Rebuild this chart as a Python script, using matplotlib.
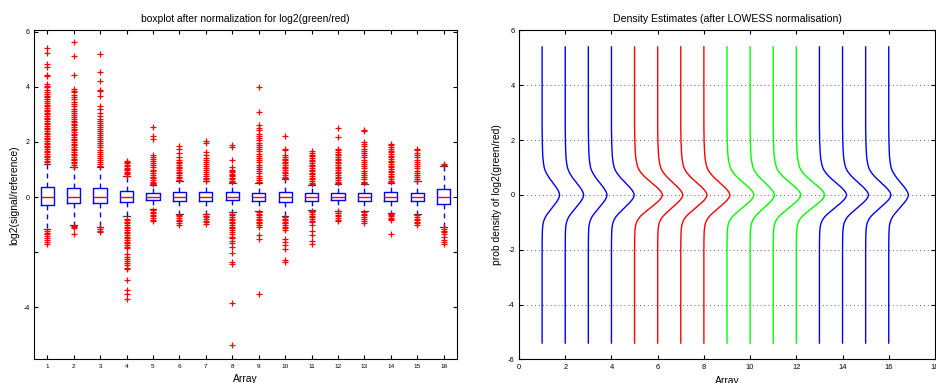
import numpy as np
from matplotlib import pyplot as plt

plt.rcParams['font.family'] = ['Liberation Sans', 'DejaVu Sans']
plt.rcParams['axes.unicode_minus'] = False

# ---- left panel: boxplot stats per array
arrays = list(range(1, 17))
medians = [0.0] * 16
q1 = [-0.28, -0.23, -0.23, -0.18, -0.11, -0.15, -0.15, -0.12,
      -0.13, -0.19, -0.13, -0.12, -0.13, -0.15, -0.16, -0.25]
q3 = [0.36, 0.34, 0.34, 0.22, 0.16, 0.20, 0.19, 0.17,
      0.16, 0.19, 0.13, 0.15, 0.15, 0.17, 0.16, 0.29]
whis_lo = [-1.15, -1.03, -1.07, -0.70, -0.42, -0.60, -0.60, -0.55,
           -0.50, -0.68, -0.48, -0.50, -0.52, -0.57, -0.60, -1.08]
whis_hi = [1.20, 1.08, 1.08, 0.75, 0.43, 0.60, 0.58, 0.52,
           0.50, 0.65, 0.42, 0.48, 0.48, 0.52, 0.58, 1.13]

out_hi = [
    [5.42, 5.22, 4.83, 4.74, 4.42, 4.38, 4.12, 4.05, 3.98, 3.9, 3.82, 3.75, 3.68, 3.62,
     3.55, 3.48, 3.42, 3.36, 3.3, 3.24, 3.18, 3.12, 3.06, 3.0, 2.94, 2.88, 2.82, 2.76,
     2.7, 2.64, 2.58, 2.52, 2.46, 2.4, 2.34, 2.28, 2.22, 2.16, 2.1, 2.04, 1.98, 1.92,
     1.86, 1.8, 1.74, 1.68, 1.62, 1.56, 1.5, 1.44, 1.38, 1.32, 1.26],
    [5.62, 5.12, 4.45, 3.92, 3.86, 3.8, 3.72, 3.62, 3.55, 3.45, 3.38, 3.3, 3.2, 3.12,
     3.05, 2.98, 2.9, 2.84, 2.78, 2.72, 2.66, 2.6, 2.54, 2.48, 2.42, 2.36, 2.3, 2.24,
     2.18, 2.12, 2.06, 2.0, 1.94, 1.88, 1.82, 1.76, 1.7, 1.64, 1.58, 1.52, 1.46, 1.4,
     1.34, 1.28, 1.22, 1.16, 1.1],
    [5.19, 4.55, 4.22, 3.88, 3.84, 3.66, 3.3, 3.21, 3.05, 2.95, 2.85, 2.78, 2.7, 2.62,
     2.55, 2.48, 2.4, 2.32, 2.25, 2.18, 2.1, 2.02, 1.95, 1.88, 1.8, 1.72, 1.65, 1.58,
     1.5, 1.42, 1.35, 1.28, 1.2, 1.13],
    [1.32, 1.27, 1.22, 1.17, 1.12, 1.07, 1.02, 0.97, 0.92, 0.87, 0.82, 0.78],
    [2.55, 2.22, 2.12, 1.52, 1.45, 1.38, 1.3, 1.22, 1.15, 1.08, 1.0, 0.93, 0.86, 0.8,
     0.74, 0.68, 0.62, 0.56, 0.5, 0.46],
    [1.86, 1.76, 1.6, 1.45, 1.34, 1.28, 1.22, 1.16, 1.1, 1.04, 0.98, 0.92, 0.86, 0.8,
     0.74, 0.68, 0.63],
    [2.02, 1.97, 1.64, 1.52, 1.43, 1.34, 1.28, 1.2, 1.12, 1.05, 0.98, 0.9, 0.83, 0.76,
     0.7, 0.64, 0.6],
    [1.9, 1.8, 1.36, 1.09, 1.0, 0.95, 0.9, 0.85, 0.8, 0.75, 0.7, 0.65, 0.6, 0.55],
    [4.0, 3.09, 2.6, 2.52, 2.42, 2.3, 2.22, 2.14, 2.06, 1.98, 1.9, 1.82, 1.74, 1.66,
     1.58, 1.5, 1.42, 1.34, 1.26, 1.18, 1.1, 1.02, 0.94, 0.86, 0.78, 0.7, 0.62, 0.55],
    [2.2, 1.76, 1.7, 1.52, 1.46, 1.4, 1.34, 1.28, 1.22, 1.16, 1.1, 1.04, 0.98, 0.92,
     0.86, 0.8, 0.74, 0.7],
    [1.66, 1.6, 1.54, 1.48, 1.42, 1.36, 1.3, 1.24, 1.18, 1.12, 1.06, 1.0, 0.94, 0.88,
     0.82, 0.76, 0.7, 0.64, 0.58, 0.52, 0.46],
    [2.52, 2.18, 1.76, 1.7, 1.64, 1.58, 1.52, 1.46, 1.4, 1.34, 1.28, 1.22, 1.16, 1.1,
     1.04, 0.98, 0.92, 0.86, 0.8, 0.74, 0.68, 0.62, 0.56, 0.5],
    [2.45, 2.4, 2.0, 1.93, 1.84, 1.76, 1.68, 1.6, 1.52, 1.44, 1.36, 1.28, 1.2, 1.12,
     1.04, 0.96, 0.88, 0.8, 0.72, 0.64, 0.56, 0.5],
    [1.94, 1.88, 1.8, 1.74, 1.68, 1.62, 1.56, 1.5, 1.44, 1.38, 1.32, 1.26, 1.2, 1.14,
     1.08, 1.02, 0.96, 0.9, 0.84, 0.78, 0.72, 0.66, 0.6, 0.55],
    [1.76, 1.7, 1.6, 1.52, 1.44, 1.36, 1.28, 1.2, 1.12, 1.04, 0.96, 0.88, 0.8, 0.72,
     0.64, 0.6],
    [1.2, 1.17],
]
out_lo = [
    [-1.22, -1.3, -1.36, -1.42, -1.5, -1.56, -1.64, -1.7],
    [-1.06, -1.1, -1.14, -1.36],
    [-1.1, -1.16, -1.22, -1.27],
    [-0.78, -0.84, -0.9, -0.96, -1.02, -1.08, -1.14, -1.2, -1.26, -1.32, -1.38, -1.44,
     -1.5, -1.56, -1.62, -1.68, -1.74, -1.8, -1.86, -2.08, -2.16, -2.24, -2.32, -2.4,
     -2.48, -2.56, -2.62, -3.0, -3.38, -3.52, -3.7],
    [-0.47, -0.53, -0.58, -0.64, -0.7, -0.76, -0.82, -0.86],
    [-0.64, -0.7, -0.76, -0.82, -0.88, -0.94, -1.0],
    [-0.62, -0.68, -0.74, -0.8, -0.86, -0.92, -0.98],
    [-0.6, -0.66, -0.72, -0.78, -0.84, -0.9, -0.96, -1.02, -1.08, -1.14, -1.2, -1.28,
     -1.36, -1.44, -1.5, -1.58, -1.66, -1.82, -2.02, -2.36, -2.42, -3.85, -5.38],
    [-0.55, -0.6, -0.66, -0.72, -0.78, -0.84, -0.9, -0.96, -1.02, -1.08, -1.39, -1.52,
     -3.52],
    [-0.72, -0.78, -0.84, -0.9, -0.96, -1.02, -1.08, -1.14, -1.2, -1.52, -1.64, -1.73,
     -1.88, -2.3, -2.36],
    [-0.5, -0.56, -0.62, -0.68, -0.74, -0.8, -0.86, -0.92, -1.03, -1.25, -1.39, -1.58,
     -1.72],
    [-0.52, -0.58, -0.64, -0.7, -0.76, -0.82, -0.86],
    [-0.54, -0.6, -0.66, -0.72, -0.78, -0.86, -0.96],
    [-0.6, -0.65, -0.7, -0.75, -0.8, -0.85, -1.33],
    [-0.66, -0.72, -0.78, -0.84, -0.9, -0.96, -1.0],
    [-1.1, -1.16, -1.22, -1.28, -1.36, -1.45, -1.55, -1.62, -1.7],
]

# ---- right panel: density profile (relative height vs log2 ratio) and peak per array
prof_y = [5.4, 2.5, 2.0, 1.6, 1.5, 1.4, 1.3, 1.2, 1.1, 1.0, 0.9, 0.8, 0.7, 0.6, 0.5, 0.4,
          0.3, 0.2, 0.1, 0.0, -0.1, -0.2, -0.3, -0.4, -0.5, -0.6, -0.7, -0.8, -0.9,
          -1.0, -1.1, -1.2, -1.3, -1.4, -1.6, -2.0, -5.4]
prof_d = [0.0, 0.0, 0.008, 0.025, 0.032, 0.04, 0.053, 0.07, 0.092, 0.12, 0.17, 0.24,
          0.33, 0.43, 0.55, 0.66, 0.78, 0.88, 0.96, 1.0, 0.96, 0.88, 0.77, 0.65, 0.53,
          0.41, 0.29, 0.19, 0.12, 0.07, 0.04, 0.025, 0.015, 0.01, 0.004, 0.0, 0.0]
peaks = [0.76, 0.8, 0.81, 0.99, 1.21, 1.09, 1.14, 1.13,
         1.17, 1.06, 1.2, 1.23, 1.18, 1.13, 1.1, 0.85]
colors = ['#0000ff'] * 4 + ['#ff0000'] * 4 + ['#00ff00'] * 4 + ['#0000ff'] * 4

fig = plt.figure(figsize=(9.36, 3.83), dpi=100)
ax1 = fig.add_axes([0.0363, 0.0614, 0.4519, 0.859])
ax2 = fig.add_axes([0.5545, 0.0614, 0.4444, 0.859])

stats = []
for i in range(16):
    stats.append(dict(med=medians[i], q1=q1[i], q3=q3[i],
                      whislo=whis_lo[i], whishi=whis_hi[i],
                      fliers=out_hi[i] + out_lo[i]))

ax1.bxp(stats, positions=arrays, widths=0.5, capwidths=0.25,
        boxprops=dict(color='#0000ff', linewidth=1.0),
        medianprops=dict(color='#ff0000', linewidth=1.0),
        whiskerprops=dict(color='#0000ff', linewidth=1.0, linestyle=(0, (3.5, 3))),
        capprops=dict(color='0.25', linewidth=0.9, zorder=1.5),
        flierprops=dict(marker='+', markeredgecolor='#ff0000', markersize=5,
                        markeredgewidth=0.9, linestyle='none', zorder=3))

ax1.set_xlim(0.5, 16.5)
ax1.set_ylim(-5.9, 6.05)
ax1.set_xticks(arrays)
ax1.set_xticklabels([str(a) for a in arrays], fontsize=4.6)
ax1.set_yticks([-4, -2, 0, 2, 4, 6])
ax1.set_yticklabels(['-4', '', '0', '2', '4', '6'], fontsize=5)
ax1.set_title('boxplot after normalization for log2(green/red)', fontsize=7.4, pad=6)
ax1.set_xlabel('Array', fontsize=7.4)
ax1.set_ylabel('log2(signal/reference)', fontsize=7.4)
ax1.xaxis.set_label_coords(0.5, -0.045)
ax1.yaxis.set_label_coords(-0.035, 0.5)

for i in range(16):
    ax2.plot(arrays[i] + peaks[i] * np.array(prof_d), prof_y, color=colors[i], linewidth=1.0)

ax2.set_xlim(0, 18)
ax2.set_ylim(-6, 6)
ax2.set_xticks(range(0, 19, 2))
ax2.set_yticks(range(-6, 7, 2))
ax2.tick_params(labelsize=5.4)
ax2.yaxis.grid(True, linestyle=(0, (1, 3)), color='0.4', linewidth=0.7)
ax2.set_title('Density Estimates (after LOWESS normalisation)', fontsize=7.6, pad=6)
ax2.set_xlabel('Array', fontsize=7.4)
ax2.set_ylabel('prob density of log2(green/red)', fontsize=7.4)
ax2.xaxis.set_label_coords(0.5, -0.05)
ax2.yaxis.set_label_coords(-0.042, 0.5)

for ax in (ax1, ax2):
    ax.tick_params(direction='in', top=True, right=True, length=3, width=0.8, pad=3,
                   colors='black')
    for sp in ax.spines.values():
        sp.set_linewidth(0.8)

fig.savefig('out.png', dpi=100)
